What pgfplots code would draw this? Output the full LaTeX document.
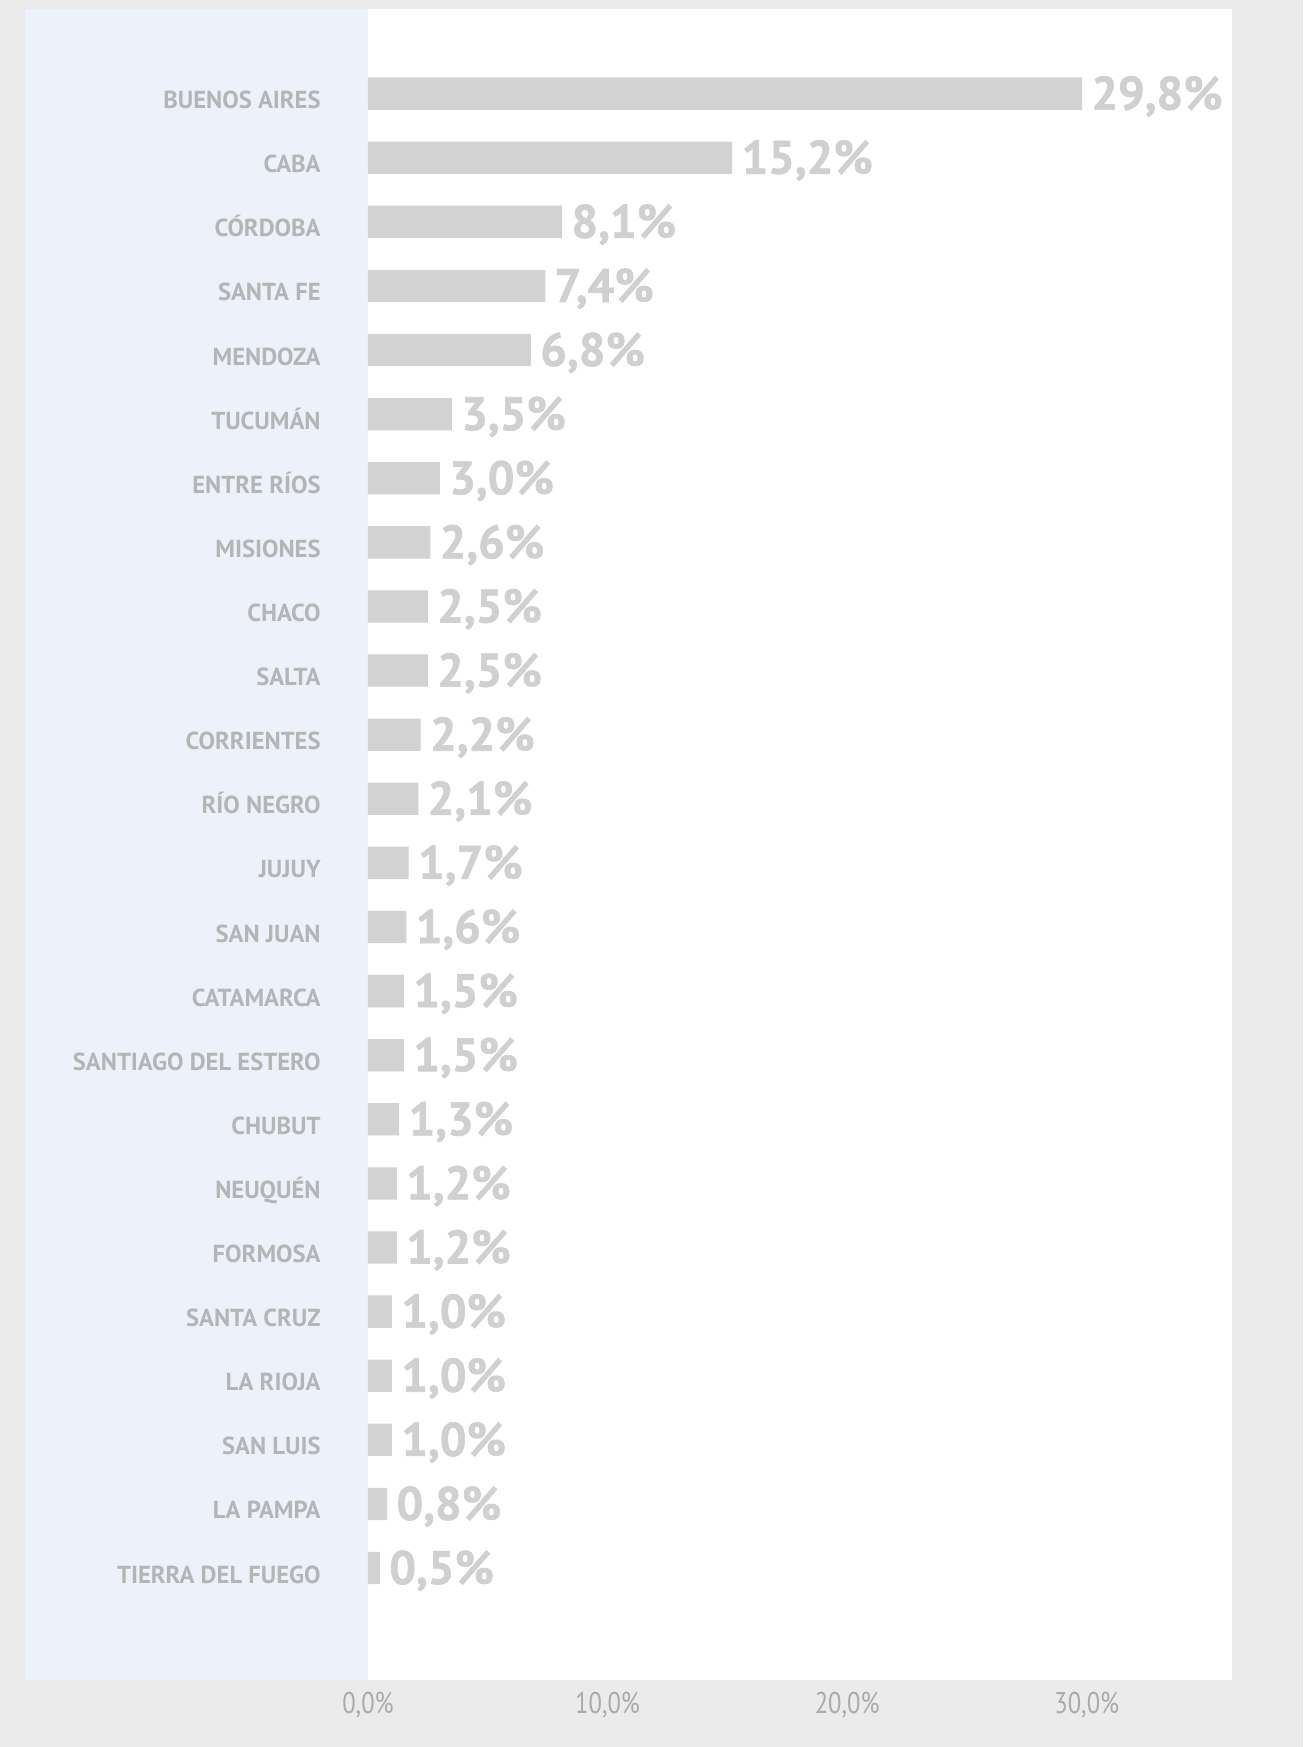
\documentclass[border=0pt]{standalone}
\usepackage{pgfplots}
\pgfplotsset{compat=1.18}
\usepackage{fontspec}
\setmainfont{PT Sans}
\newfontfamily\tickfont[FakeStretch=0.82]{PT Sans}
\newfontfamily\catfont{PT Sans}
\newfontfamily\valfont[FakeBold=1.3]{PT Sans Bold}
\definecolor{bgc}{HTML}{EBEBEB}
\definecolor{bluec}{HTML}{EDF1FA}
\definecolor{barc}{HTML}{D2D2D2}
\definecolor{labc}{HTML}{B5B5B5}
\definecolor{tickc}{HTML}{AAAAAA}
\definecolor{valc}{HTML}{D0D0D0}
\pgfplotstableread{
idx val
0 29.8
1 15.2
2 8.1
3 7.4
4 6.8
5 3.5
6 3.0
7 2.6
8 2.5
9 2.5
10 2.2
11 2.1
12 1.7
13 1.6
14 1.5
15 1.5
16 1.3
17 1.2
18 1.2
19 1.0
20 1.0
21 1.0
22 0.8
23 0.5
}\datatable
\begin{document}
\begin{tikzpicture}
\fill[bgc] (0pt,0pt) rectangle (651.5pt,-873.5pt);
\fill[white] (12.25pt,-4.5pt) rectangle (616pt,-840pt);
\fill[bluec] (12.25pt,-4.5pt) rectangle (184pt,-840pt);
\begin{axis}[
  at={(184pt,-840pt)}, anchor=south west,
  scale only axis, width=432pt, height=835.5pt,
  xbar, bar width=0.504,
  xmin=0, xmax=36.06,
  ymin=-1.320, ymax=24.747, y dir=reverse,
  axis line style={draw=none},
  major tick length=0pt,
  clip=false,
  xtick={0,10,20,30},
  xticklabels={{0,0\%},{10,0\%},{20,0\%},{30,0\%}},
  xticklabel style={anchor=base, inner sep=0pt, yshift=-16.5pt, font=\tickfont\fontsize{15}{16}\selectfont, text=tickc},
  ytick={0,...,23},
  yticklabels={BUENOS AIRES,CABA,CÓRDOBA,SANTA FE,MENDOZA,TUCUMÁN,ENTRE RÍOS,MISIONES,CHACO,SALTA,CORRIENTES,RÍO NEGRO,JUJUY,SAN JUAN,CATAMARCA,SANTIAGO DEL ESTERO,CHUBUT,NEUQUÉN,FORMOSA,SANTA CRUZ,LA RIOJA,SAN LUIS,LA PAMPA,TIERRA DEL FUEGO},
  yticklabel style={anchor=base east, inner sep=0pt, xshift=-23.5pt, yshift=-7.5pt, font=\catfont\bfseries\fontsize{12.3}{13}\selectfont, text=labc},
  /pgf/number format/assume math mode=true,
  point meta=x,
  nodes near coords={\pgfmathprintnumber[fixed,fixed zerofill,precision=1,use comma]{\pgfplotspointmeta}\%},
  nodes near coords align={horizontal},
  every node near coord/.append style={anchor=base west, inner sep=0pt, xshift=4.5pt, yshift=-8pt, font=\valfont\fontsize{23.5}{25}\selectfont, text=valc},
]
\addplot[fill=barc, draw=none] table[x=val, y=idx] {\datatable};
\end{axis}
\end{tikzpicture}
\end{document}
